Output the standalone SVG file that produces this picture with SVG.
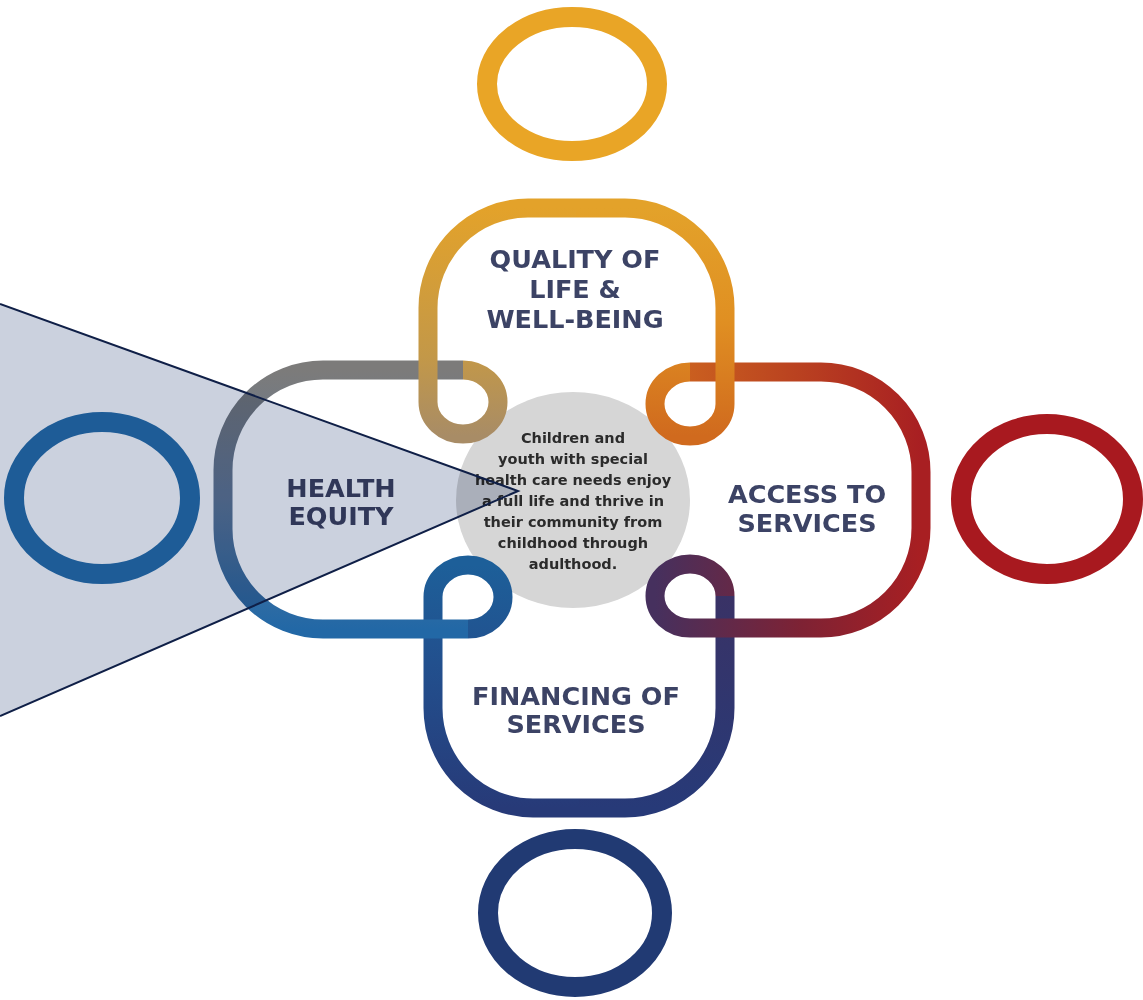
<svg xmlns="http://www.w3.org/2000/svg" width="1143" height="1000" viewBox="0 0 1143 1000">
<style>
.bg{fill:#ffffff}
.loop{fill:none;stroke-width:19;stroke-linecap:butt;stroke-linejoin:round}
.ring{fill:none;stroke-width:20}
.lbl{font-family:"DejaVu Sans","Liberation Sans",sans-serif;font-weight:bold;font-size:25.5px;fill:#3c4365;text-anchor:middle}
.ctr{font-family:"DejaVu Sans","Liberation Sans",sans-serif;font-weight:bold;font-size:14.5px;fill:#2b2b2b;text-anchor:middle}
</style>
<defs>
<linearGradient id="gQ1" gradientUnits="userSpaceOnUse" x1="0" y1="436" x2="0" y2="208"><stop offset="0" stop-color="#a88c66"/><stop offset="0.35" stop-color="#c39848"/><stop offset="1" stop-color="#e3a22a"/></linearGradient>
<linearGradient id="gQ2" gradientUnits="userSpaceOnUse" x1="0" y1="208" x2="0" y2="436"><stop offset="0" stop-color="#e3a22a"/><stop offset="0.5" stop-color="#e08f22"/><stop offset="1" stop-color="#d06a1e"/></linearGradient>
<linearGradient id="gA1" gradientUnits="userSpaceOnUse" x1="655" y1="0" x2="921" y2="0"><stop offset="0" stop-color="#cf681f"/><stop offset="0.5" stop-color="#bb4420"/><stop offset="1" stop-color="#a81f22"/></linearGradient>
<linearGradient id="gA2" gradientUnits="userSpaceOnUse" x1="921" y1="0" x2="655" y2="0"><stop offset="0" stop-color="#a81f22"/><stop offset="0.45" stop-color="#7e2234"/><stop offset="1" stop-color="#46305e"/></linearGradient>
<linearGradient id="gF1" gradientUnits="userSpaceOnUse" x1="0" y1="565" x2="0" y2="808"><stop offset="0" stop-color="#3c3163"/><stop offset="1" stop-color="#273a78"/></linearGradient>
<linearGradient id="gF2" gradientUnits="userSpaceOnUse" x1="0" y1="808" x2="0" y2="565"><stop offset="0" stop-color="#273a78"/><stop offset="0.6" stop-color="#22508e"/><stop offset="1" stop-color="#1d5f99"/></linearGradient>
<linearGradient id="gH" gradientUnits="userSpaceOnUse" x1="0" y1="629" x2="0" y2="370"><stop offset="0" stop-color="#2268a6"/><stop offset="0.5" stop-color="#5f7898"/><stop offset="1" stop-color="#7c7b7a"/></linearGradient>
</defs>
<rect class="bg" x="0" y="0" width="1143" height="1000"/>

<g id="center">
<ellipse cx="573" cy="500" rx="117" ry="108" fill="#d6d6d6"/>
</g>

<g id="connectors">
<path class="loop" stroke="url(#gF1)" d="M 725 596 L 725 708 A 100 100 0 0 1 625 808 L 579 808"/>
<path class="loop" stroke="url(#gF2)" d="M 579 808 L 533 808 A 100 100 0 0 1 433 708 L 433 597 A 35 32 0 1 1 468 629"/>
<path class="loop" stroke="url(#gH)" d="M 468 629 L 323 629 A 100 100 0 0 1 223 529 L 223 470 A 100 100 0 0 1 323 370 L 463 370"/>
<path class="loop" stroke="url(#gA1)" d="M 690 372 L 821 372 A 100 100 0 0 1 921 472 L 921 500"/>
<path class="loop" stroke="url(#gA2)" d="M 921 500 L 921 528 A 100 100 0 0 1 821 628 L 690 628 A 35 32 0 1 1 725 596"/>
<path class="loop" stroke="url(#gQ1)" d="M 576 208 L 528 208 A 100 100 0 0 0 428 308 L 428 402 A 35 32 0 1 0 463 370"/>
<path class="loop" stroke="url(#gQ2)" d="M 576 208 L 625 208 A 100 100 0 0 1 725 308 L 725 404 A 35 32 0 1 1 690 372"/>
</g>

<g id="center-text">
<text class="ctr" x="573" y="443">Children and</text>
<text class="ctr" x="573" y="464">youth with special</text>
<text class="ctr" x="573" y="485">health care needs enjoy</text>
<text class="ctr" x="573" y="506">a full life and thrive in</text>
<text class="ctr" x="573" y="527">their community from</text>
<text class="ctr" x="573" y="548">childhood through</text>
<text class="ctr" x="573" y="569">adulthood.</text>
</g>

<g id="quality">
<text class="lbl" x="575" y="268">QUALITY OF</text>
<text class="lbl" x="575" y="298">LIFE &amp;</text>
<text class="lbl" x="575" y="328">WELL-BEING</text>
<ellipse class="ring" cx="572" cy="84" rx="85" ry="67" stroke="#e9a526"/>
</g>

<g id="access">
<text class="lbl" x="807" y="503">ACCESS TO</text>
<text class="lbl" x="807" y="532">SERVICES</text>
<ellipse class="ring" cx="1047" cy="499" rx="86" ry="75" stroke="#a8191f"/>
</g>

<g id="financing">
<text class="lbl" x="576" y="705">FINANCING OF</text>
<text class="lbl" x="576" y="733">SERVICES</text>
<ellipse class="ring" cx="575" cy="913" rx="87" ry="74" stroke="#213a73"/>
</g>

<g id="health">
<text class="lbl" x="341" y="497">HEALTH</text>
<text class="lbl" x="341" y="525">EQUITY</text>
<ellipse class="ring" cx="102" cy="498" rx="88" ry="76" stroke="#2570ae"/>
</g>

<g id="overlay">
<polygon points="0,304 518,491 0,716" fill="#cbd1de" style="mix-blend-mode:multiply"/>
<polyline points="0,304 518,491 0,716" fill="none" stroke="#0f1f47" stroke-width="2" stroke-linejoin="miter"/>
</g>
</svg>
